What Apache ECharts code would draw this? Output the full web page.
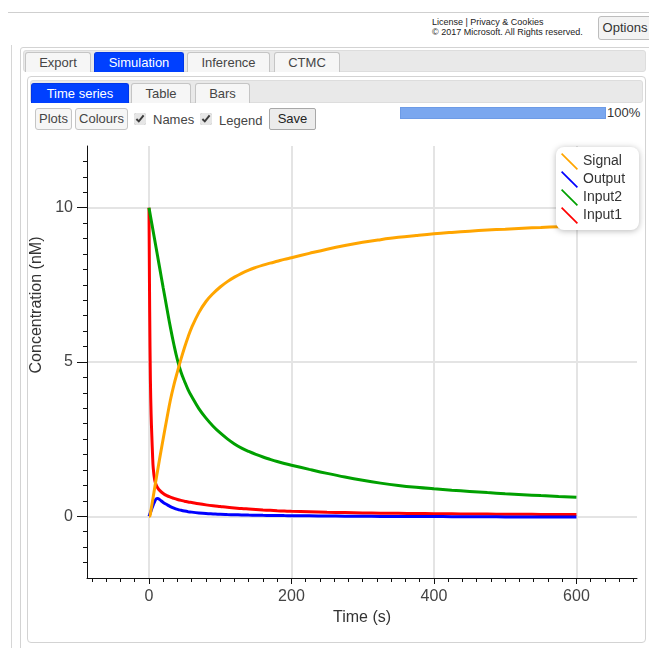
<!DOCTYPE html>
<html><head><meta charset="utf-8">
<script src="https://cdn.jsdelivr.net/npm/echarts@6/dist/echarts.min.js"></script>
<style>
html,body{margin:0;padding:0;width:649px;height:648px;overflow:hidden;background:#fff;font-family:"Liberation Sans",Arial,sans-serif;}
.a{position:absolute;box-sizing:border-box;}
.tab{border:1px solid #c5c5c5;border-bottom:none;border-radius:3px 3px 0 0;background:#f6f6f6;color:#454545;font-size:13px;text-align:center;line-height:19px;}
.tab.on{background:#0040ff;border-color:#0036e8;color:#fff;}
.btn{border:1px solid #c5c5c5;border-radius:3px;background:#f6f6f6;color:#454545;font-size:13px;text-align:center;line-height:20px;}
.lbl{font-size:13px;color:#454545;}
input[type=checkbox]{position:absolute;margin:0;width:12px;height:12px;accent-color:#e6e6e6;}
#chart{position:absolute;left:0;top:0;width:649px;height:648px;z-index:10;}
</style>
</head><body>
<div class="a" style="left:8px;top:12px;width:641px;height:1px;background:#cfcfcf"></div>
<div class="a" style="left:432px;top:18px;font-size:9px;line-height:9.5px;color:#222;white-space:nowrap">License | Privacy &amp; Cookies<br>© 2017 Microsoft. All Rights reserved.</div>
<div class="a btn" style="left:598px;top:16px;width:54px;height:24px;line-height:22px;font-size:13px;color:#333;background:#f3f3f3;border-color:#bdbdbd">Options</div>

<div class="a" style="left:11px;top:45px;width:1px;height:603px;background:#d6d6d6"></div>
<div class="a" style="left:20px;top:47px;width:640px;height:620px;border:1px solid #d3d3d3;border-radius:3px"></div>
<div class="a" style="left:23px;top:50px;width:623px;height:22px;background:#e9e9e9;border:1px solid #dddddd;border-radius:3px"></div>
<div class="a tab" style="left:25px;top:52px;width:66px;height:20px">Export</div>
<div class="a tab on" style="left:94px;top:52px;width:90px;height:20px">Simulation</div>
<div class="a tab" style="left:187px;top:52px;width:83px;height:20px">Inference</div>
<div class="a tab" style="left:274px;top:52px;width:66px;height:20px">CTMC</div>

<div class="a" style="left:27px;top:76px;width:619px;height:567px;border:1px solid #d3d3d3;border-radius:4px"></div>
<div class="a" style="left:30px;top:80px;width:613px;height:23px;background:#e9e9e9;border:1px solid #dddddd;border-radius:3px"></div>
<div class="a tab on" style="left:31px;top:83px;width:98px;height:20px">Time series</div>
<div class="a tab" style="left:131px;top:83px;width:60px;height:20px">Table</div>
<div class="a tab" style="left:195px;top:83px;width:55px;height:20px">Bars</div>

<div class="a btn" style="left:35px;top:108px;width:37px;height:22px">Plots</div>
<div class="a btn" style="left:75px;top:108px;width:53px;height:22px">Colours</div>
<input type="checkbox" checked style="left:134px;top:113px">
<div class="a lbl" style="left:153px;top:111px;line-height:17px">Names</div>
<input type="checkbox" checked style="left:200px;top:113px">
<div class="a lbl" style="left:219px;top:112px;line-height:17px">Legend</div>
<div class="a btn" style="left:269px;top:108px;width:47px;height:22px;background:#ececec;border-color:#a8a8a8;border-radius:2px;color:#222">Save</div>

<div class="a" style="left:400px;top:107px;width:206px;height:12px;background:#7aa7ef;border:1px solid #6d9be6"></div>
<div class="a lbl" style="left:607px;top:105px;line-height:16px;color:#333">100%</div>

<div id="chart"></div>
<script>
// Simulation output (time in s, concentrations in nM)
const times  = [0,1,2,3,4,5,6, 8,10,12,15, 20,25,30,35,40,45,50,55,60,
                70,80,90,100,110,120,130,140,150,160,170,180,190,200,
                225,250,275,300,325,350,375,400,425,450,475,500,525,550,575,600];
const signal = [0,0,0.08,0.22,0.36,0.5,0.64, 0.92,1.2,1.47,1.87, 2.52,3.15,3.76,4.26,4.69,5.1,5.48,5.82,6.12,
                6.6,6.96,7.22,7.43,7.605,7.75,7.875,7.98,8.065,8.14,8.205,8.265,8.325,8.38,
                8.52,8.655,8.775,8.88,8.965,9.04,9.1,9.155,9.2,9.24,9.275,9.305,9.335,9.36,9.385,9.41];
const output = [0,0.06,0.12,0.18,0.25,0.31,0.37, 0.48,0.56,0.58,0.54, 0.45,0.38,0.315,0.265,0.225,0.195,0.17,0.15,0.135,
                0.11,0.09,0.077,0.065,0.057,0.05,0.044,0.039,0.035,0.031,0.028,0.025,0.022,0.02,
                0.015,0.01,0.005,0,-0.003,-0.005,-0.008,-0.01,-0.012,-0.015,-0.017,-0.02,-0.021,-0.022,-0.024,-0.025];
const input2 = [10,9.87,9.74,9.61,9.48,9.35,9.22, 8.96,8.7,8.44,8.05, 7.4,6.76,6.13,5.56,5.06,4.67,4.37,4.1,3.88,
                3.49,3.18,2.92,2.7,2.51,2.345,2.21,2.1,2.005,1.92,1.845,1.775,1.712,1.655,
                1.52,1.39,1.27,1.165,1.075,1.0,0.94,0.89,0.845,0.805,0.767,0.732,0.7,0.67,0.643,0.618];
const input1 = [10,6.6,4.4,3.3,2.6,2.0,1.55, 1.18,1.02,0.93,0.84, 0.74,0.67,0.62,0.58,0.545,0.515,0.49,0.465,0.445,
                0.405,0.37,0.34,0.315,0.29,0.27,0.25,0.235,0.22,0.205,0.192,0.18,0.17,0.16,
                0.145,0.13,0.12,0.11,0.102,0.095,0.09,0.085,0.08,0.075,0.071,0.068,0.064,0.061,0.058,0.055];
const legendNames = ['Signal','Output','Input2','Input1'];
const xTicks = [0,200,400,600];
const yTicks = [0,5,10];

const colors = {Signal:'#ffa500', Output:'#0000ff', Input2:'#00a000', Input1:'#ff0000'};
const seriesValues = {Signal:signal, Output:output, Input2:input2, Input1:input1};
const drawOrder = ['Input1','Input2','Output','Signal'];
const FONT = '"Liberation Sans", Arial, sans-serif';

const chart = echarts.init(document.getElementById('chart'), null, {renderer:'canvas'});
chart.setOption({
  animation:false,
  backgroundColor:'transparent',
  grid:{left:87, top:146, width:550, height:432, containLabel:false},
  legend:{
    data:legendNames, orient:'vertical', left:556, top:147,
    padding:[6,14,6,5], itemGap:1, itemWidth:17, itemHeight:17,
    icon:'path://M0,1.2 L1.2,0 L17,15.8 L15.8,17 Z',
    backgroundColor:'#ffffff', borderRadius:8, borderWidth:0,
    shadowBlur:6, shadowColor:'rgba(0,0,0,0.28)', shadowOffsetX:0, shadowOffsetY:1,
    itemStyle:{borderWidth:0},
    textStyle:{fontSize:14, color:'#333', fontFamily:FONT}
  },
  xAxis:{
    type:'value', min:-87, max:685, splitNumber:5,
    axisLine:{onZero:false, lineStyle:{color:'#111', width:1}},
    axisTick:{show:true, length:6, customValues:xTicks, lineStyle:{color:'#111'}},
    minorTick:{show:true, splitNumber:10, length:4, lineStyle:{color:'#111'}},
    axisLabel:{customValues:xTicks, margin:11, fontSize:16, color:'#444', fontFamily:FONT},
    splitLine:{show:true, lineStyle:{color:'#e4e4e4', width:2}},
    minorSplitLine:{show:false},
    name:'Time (s)', nameLocation:'middle', nameGap:30,
    nameTextStyle:{fontSize:16, color:'#333', fontFamily:FONT}
  },
  yAxis:{
    type:'value', min:-2, max:12, splitNumber:3,
    axisLine:{onZero:false, lineStyle:{color:'#111', width:1}},
    axisTick:{show:true, length:10, customValues:yTicks, lineStyle:{color:'#111'}},
    minorTick:{show:true, splitNumber:10, length:4, lineStyle:{color:'#111'}},
    axisLabel:{customValues:yTicks, margin:14, fontSize:16, color:'#444', fontFamily:FONT},
    splitLine:{show:true, lineStyle:{color:'#e4e4e4', width:2}},
    name:'Concentration (nM)', nameLocation:'middle', nameGap:38,
    nameTextStyle:{fontSize:16, color:'#333', fontFamily:FONT, padding:[0,0,0,114]}
  },
  series: drawOrder.map(name => ({
    name, type:'line', color:colors[name],
    data: times.map((t,i)=>[t, seriesValues[name][i]]),
    showSymbol:false, smooth:0.4,
    lineStyle:{width:3, color:colors[name]},
    emphasis:{disabled:true}
  }))
});
</script>
</body></html>
